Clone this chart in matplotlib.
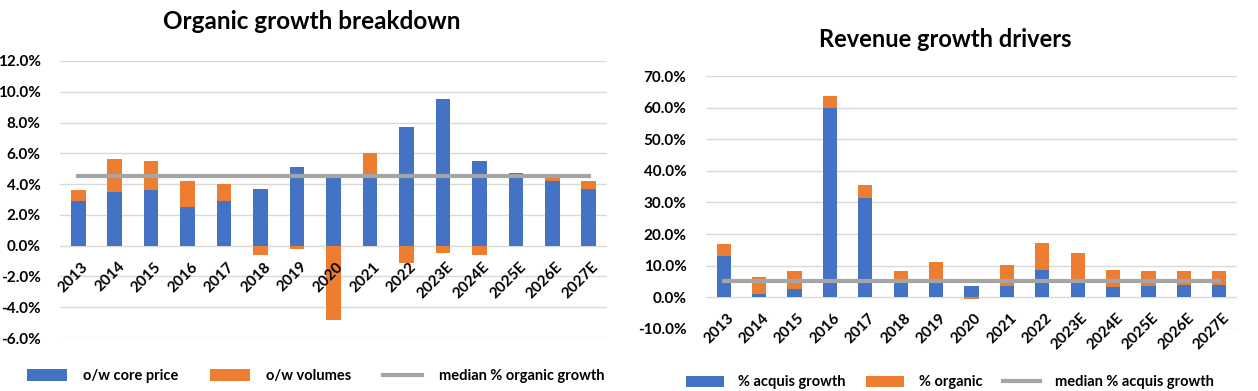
"""
    Organic growth breakdown / revenue growth drivers
"""

import numpy as np
import matplotlib
import matplotlib.pyplot as plt
from matplotlib.ticker import FuncFormatter, MultipleLocator

matplotlib.use('agg')

plt.rcParams['font.family'] = ['Lato', 'DejaVu Sans']
plt.rcParams['font.weight'] = 'bold'

blue = '#4472C4'
orange = '#ED7D31'
grey = '#A5A5A5'
gridCol = '#D9D9D9'

years = ['2013', '2014', '2015', '2016', '2017', '2018', '2019', '2020',
         '2021', '2022', '2023E', '2024E', '2025E', '2026E', '2027E']

# organic growth breakdown (%)
corePrice = [2.9, 3.5, 3.6, 2.5, 2.9, 3.7, 5.1, 4.4, 4.6, 7.7, 9.5, 5.5, 4.7, 4.2, 3.7]
volumes = [0.7, 2.1, 1.9, 1.7, 1.1, -0.6, -0.2, -4.8, 1.4, -1.1, -0.5, -0.6, 0.05, 0.3, 0.5]
medianOrganic = 4.5

# revenue growth drivers (%)
acquisGrowth = [13.1, 1.0, 2.7, 60.0, 31.5, 4.8, 4.9, 3.5, 3.6, 8.7, 5.0, 3.4, 3.6, 4.0, 4.0]
organic = [3.9, 5.5, 5.6, 3.8, 3.9, 3.4, 6.2, -0.5, 6.5, 8.5, 9.1, 5.2, 4.8, 4.4, 4.3]
medianAcquis = 5.3


def stackedChart(ax, base, top, median, labels, ylim, step):
    """ stacked bars (negative part from zero) plus flat median line"""
    x = np.arange(len(years))
    base = np.array(base)
    top = np.array(top)
    bottom = np.where(top >= 0, base, 0)
    hB = ax.bar(x, base, width=0.4, color=blue, label=labels[0], zorder=2)
    hO = ax.bar(x, top, width=0.4, bottom=bottom, color=orange, label=labels[1], zorder=2)
    hM, = ax.plot(x, [median] * len(x), color=grey, linewidth=3, label=labels[2], zorder=3)

    ax.set_xlim(-0.5, len(x) - 0.5)
    ax.set_ylim(*ylim)
    ax.yaxis.set_major_locator(MultipleLocator(step))
    ax.yaxis.set_major_formatter(FuncFormatter(lambda v, p: '{:.1f}%'.format(v)))
    ax.grid(axis='y', color=gridCol, linewidth=1, zorder=0)
    ax.set_axisbelow(True)
    for side in ['top', 'right', 'left', 'bottom']:
        ax.spines[side].set_visible(False)
    ax.set_xticks([])
    ax.tick_params(axis='y', length=0, labelsize=11, pad=14)
    # category labels sit at the zero line, drawn over the bars
    for i, yr in enumerate(years):
        ax.annotate(yr, (i, 0), xytext=(2, -10), textcoords='offset points',
                    rotation=45, ha='right', va='top', rotation_mode='anchor',
                    fontsize=11, fontweight='bold', zorder=5, annotation_clip=False)
    return [hB, hO, hM]


fig = plt.figure(figsize=(12.58, 3.91), dpi=100)

ax1 = fig.add_axes([0.0477, 0.1355, 0.4348, 0.7085])
h1 = stackedChart(ax1, corePrice, volumes, medianOrganic,
                  ['o/w core price', 'o/w volumes', 'median % organic growth'], (-6, 12), 2)
fig.text(0.248, 0.945, 'Organic growth breakdown', ha='center', va='center',
         fontsize=17.5, fontweight='bold')
ax1.legend(handles=h1, loc='center', bbox_to_anchor=(0.251, 0.038),
           bbox_transform=fig.transFigure, ncol=3, frameon=False, fontsize=10.5,
           handlelength=2.7, handleheight=0.8, handletextpad=1.1, columnspacing=2.2)

ax2 = fig.add_axes([0.5612, 0.1586, 0.4221, 0.647])
h2 = stackedChart(ax2, acquisGrowth, organic, medianAcquis,
                  ['% acquis growth', '% organic', 'median % acquis growth'], (-10, 70), 10)
fig.text(0.751, 0.9, 'Revenue growth drivers', ha='center', va='center',
         fontsize=17, fontweight='bold')
ax2.legend(handles=h2, loc='center', bbox_to_anchor=(0.755, 0.022),
           bbox_transform=fig.transFigure, ncol=3, frameon=False, fontsize=10.5,
           handlelength=2.6, handleheight=0.8, handletextpad=1.0, columnspacing=1.4)

fig.savefig('out.png', dpi=100)
